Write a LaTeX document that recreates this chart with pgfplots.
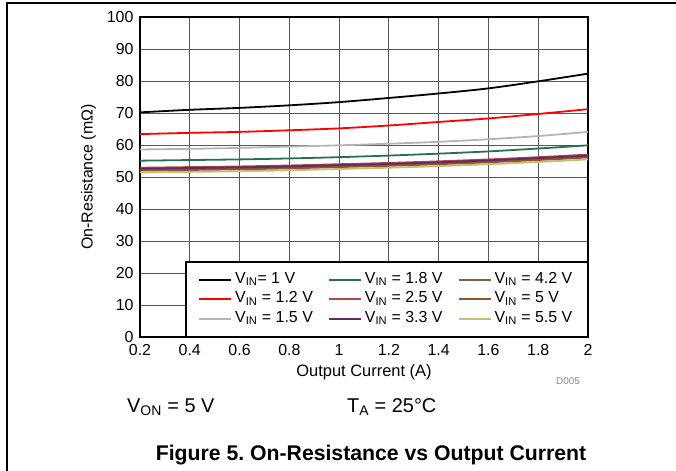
\documentclass[border=0pt]{standalone}
\usepackage{fontspec}
\setmainfont{Liberation Sans}
\usepackage{pgfplots}
\pgfplotsset{compat=1.18}
\frenchspacing

\definecolor{vone}{RGB}{0,0,0}
\definecolor{vonetwo}{RGB}{255,0,0}
\definecolor{vonefive}{RGB}{180,180,180}
\definecolor{voneeight}{RGB}{40,112,78}
\definecolor{vtwofive}{RGB}{178,72,72}
\definecolor{vthreethree}{RGB}{100,40,100}
\definecolor{vfourtwo}{RGB}{125,98,62}
\definecolor{vfive}{RGB}{142,86,42}
\definecolor{vfivefive}{RGB}{196,190,112}

\begin{document}
\begin{tikzpicture}
\useasboundingbox (0bp,0bp) rectangle (676bp,-471bp);
\draw[line width=1.2bp] (7bp,-471bp) -- (7bp,-3bp) -- (676bp,-3bp);

\begin{axis}[
    at={(140bp,-337bp)}, anchor=south west,
    scale only axis,
    width=448bp, height=320bp,
    xmin=0.2, xmax=2,
    ymin=0, ymax=100,
    xtick={0.2,0.4,0.6,0.8,1,1.2,1.4,1.6,1.8,2},
    ytick={0,10,20,30,40,50,60,70,80,90,100},
    grid=major,
    major grid style={black!65, line width=0.8bp},
    axis line style={line width=2bp},
    major tick length=0pt,
    /pgf/number format/assume math mode=true,
    tick label style={font=\fontsize{16}{16}\selectfont},
    xticklabel style={yshift=-4bp},
    yticklabel style={xshift=-3bp},
    xlabel={Output Current (A)},
    ylabel={On-Resistance (mΩ)},
    xlabel style={at={(axis description cs:0.5,-0.11)}, anchor=center, font=\fontsize{16.5}{16.5}\selectfont},
    ylabel style={at={(axis description cs:-0.115,0.5)}, anchor=center, font=\fontsize{16}{16}\selectfont},
    legend columns=3,
    legend cell align=left,
    legend image code/.code={\draw[#1, line width=2bp] (0bp,0bp) -- (32bp,0bp);},
    legend style={at={(1,0)}, anchor=south east, draw=black, line width=1.5bp,
        font=\fontsize{16}{16}\selectfont, fill=white,
        inner xsep=12bp, inner ysep=8bp,
        nodes={text height=11.5bp, text depth=4bp, inner ysep=2bp, inner xsep=3bp},
        /tikz/every even column/.append style={column sep=12bp}},
    every axis plot/.append style={line width=1.8bp, smooth},
]
% row-major order so the legend reads column by column as in the reference
\addplot[vone] coordinates {(0.2,70.2)(0.4,71.0)(0.6,71.6)(0.8,72.4)(1.0,73.4)(1.2,74.7)(1.4,76.1)(1.6,77.7)(1.8,79.9)(2.0,82.3)};
\addlegendentry{V\textsubscript{IN}= 1 V}
\addplot[voneeight] coordinates {(0.2,55.1)(0.4,55.3)(0.6,55.5)(0.8,55.8)(1.0,56.2)(1.2,56.7)(1.4,57.3)(1.6,58.0)(1.8,58.9)(2.0,59.9)};
\addlegendentry{V\textsubscript{IN} = 1.8 V}
\addplot[vfourtwo] coordinates {(0.2,52.3)(0.4,52.5)(0.6,52.7)(0.8,53.0)(1.0,53.4)(1.2,53.8)(1.4,54.3)(1.6,54.9)(1.8,55.6)(2.0,56.4)};
\addlegendentry{V\textsubscript{IN} = 4.2 V}
\addplot[vonetwo] coordinates {(0.2,63.4)(0.4,63.8)(0.6,64.1)(0.8,64.6)(1.0,65.2)(1.2,66.1)(1.4,67.2)(1.6,68.3)(1.8,69.7)(2.0,71.2)};
\addlegendentry{V\textsubscript{IN} = 1.2 V}
\addplot[vtwofive] coordinates {(0.2,52.9)(0.4,53.1)(0.6,53.3)(0.8,53.6)(1.0,54.0)(1.2,54.4)(1.4,54.9)(1.6,55.5)(1.8,56.2)(2.0,57.0)};
\addlegendentry{V\textsubscript{IN} = 2.5 V}
\addplot[vfive] coordinates {(0.2,52.0)(0.4,52.2)(0.6,52.4)(0.8,52.7)(1.0,53.1)(1.2,53.5)(1.4,54.0)(1.6,54.6)(1.8,55.3)(2.0,56.1)};
\addlegendentry{V\textsubscript{IN} = 5 V}
\addplot[vonefive] coordinates {(0.2,58.6)(0.4,58.8)(0.6,59.1)(0.8,59.5)(1.0,59.9)(1.2,60.4)(1.4,61.0)(1.6,61.8)(1.8,62.8)(2.0,64.1)};
\addlegendentry{V\textsubscript{IN} = 1.5 V}
\addplot[vthreethree] coordinates {(0.2,52.6)(0.4,52.8)(0.6,53.0)(0.8,53.3)(1.0,53.7)(1.2,54.1)(1.4,54.6)(1.6,55.2)(1.8,55.9)(2.0,56.7)};
\addlegendentry{V\textsubscript{IN} = 3.3 V}
\addplot[vfivefive] coordinates {(0.2,51.4)(0.4,51.6)(0.6,51.8)(0.8,52.1)(1.0,52.5)(1.2,52.9)(1.4,53.4)(1.6,54.0)(1.8,54.7)(2.0,55.5)};
\addlegendentry{V\textsubscript{IN} = 5.5 V}
\end{axis}

\node[anchor=base, text=black!45, font=\fontsize{10}{10}\selectfont] at (568bp,-384bp) {D005};
\node[anchor=base west, inner sep=0pt, font=\fontsize{20}{20}\selectfont] at (127bp,-412bp) {V\textsubscript{ON} = 5 V};
\node[anchor=base west, inner sep=0pt, font=\fontsize{20}{20}\selectfont] at (347bp,-412bp) {T\textsubscript{A} = 25°C};
\node[anchor=base, inner sep=0pt, font=\bfseries\fontsize{21.3}{21.3}\selectfont] at (371bp,-460bp) {Figure 5. On-Resistance vs Output Current};
\end{tikzpicture}
\end{document}
